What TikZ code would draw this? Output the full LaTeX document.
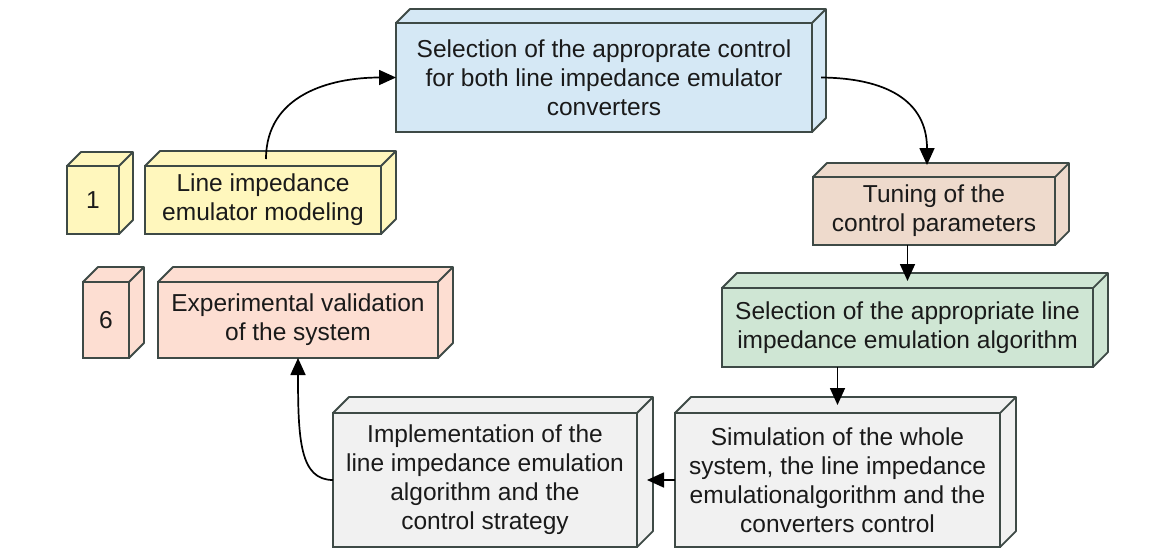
\documentclass[tikz,border=0pt]{standalone}
\usepackage{fontspec}
\setmainfont{Liberation Sans}
\usetikzlibrary{arrows.meta,calc}

\definecolor{edge}{HTML}{3E4A46}
\definecolor{fyellow}{HTML}{FFF7BD}
\definecolor{fblue}{HTML}{D5E8F5}
\definecolor{ftan}{HTML}{EEDACC}
\definecolor{fgreen}{HTML}{CFE6D4}
\definecolor{fpink}{HTML}{FDDED2}
\definecolor{fgray}{HTML}{F1F1F1}
\definecolor{txt}{HTML}{1A1A1A}

\tikzset{
  face/.style={draw=edge, line width=1.8pt, outer sep=0pt, inner sep=0pt,
    align=center, text=txt, anchor=north west,
    font=\fontsize{24.5}{29}\selectfont},
  flow/.style={draw=black, line width=1.7pt,
    -{Triangle[length=17pt,width=15pt]}},
}

% front face as a named node, top and right faces drawn behind it
% name, fill, x, y, width, height, depth, text
\newcommand\blockthreedi[8]{%
  \node[face, fill=#2, minimum width=#5, minimum height=#6] (#1) at (#3,#4) {#8};
  \filldraw[fill=#2, draw=edge, line width=1.8pt, line join=round]
    (#1.north west) -- ++(#7,-#7) -- ($(#1.north east)+(#7,-#7)$)
    -- ($(#1.south east)+(#7,-#7)$) -- (#1.south east) -- (#1.north east) -- cycle;
  \draw[edge, line width=1.8pt, line join=round]
    (#1.north east) -- ++(#7,-#7);
}

\begin{document}
\begin{tikzpicture}[x=1pt,y=-1pt]
\useasboundingbox (0,0) rectangle (1166,550);

\blockthreedi{one}{fyellow}{67}{166}{52pt}{68pt}{14}{1}
\blockthreedi{li}{fyellow}{145}{166}{236pt}{68pt}{15}{Line impedance\\emulator modeling}
\blockthreedi{sel}{fblue}{396}{23}{416pt}{109pt}{14}{Selection of the approprate control\\for both line impedance emulator\\converters}
\blockthreedi{tun}{ftan}{813}{177}{242pt}{68pt}{14}{Tuning of the\\control parameters}
\blockthreedi{alg}{fgreen}{722}{288}{371pt}{79pt}{15}{Selection of the appropriate line\\impedance emulation algorithm}
\blockthreedi{six}{fpink}{83}{282}{46pt}{76pt}{15}{6}
\blockthreedi{exp}{fpink}{158}{282}{280pt}{76pt}{15}{Experimental validation\\of the system}
\blockthreedi{imp}{fgray}{333}{413}{304pt}{134pt}{16}{Implementation of the\\line impedance emulation\\algorithm and the\\control strategy}
\blockthreedi{sim}{fgray}{675}{413}{325pt}{134pt}{16}{Simulation of the whole\\system, the line impedance\\emulationalgorithm and the\\converters control}

% connector end points lying on the top and side faces
\coordinate (liTop) at ($(li.north)+(3,-7)$);
\coordinate (selSide) at ($(sel.east)+(9,0)$);
\coordinate (tunTop) at ($(tun.north)+(-7,-12)$);
\coordinate (algTop) at ($(alg.north)+(0,-7)$);
\coordinate (simTop) at ($(sim.north)+(0,-8)$);
\coordinate (impSide) at ($(imp.east)+(10,0)$);

\draw[flow] (liTop) .. controls (266,95) and (330,77.5) .. (sel.west);
\draw[flow] (selSide) .. controls (885,78) and (927,100) .. (tunTop);
\draw[flow] (algTop |- tun.south) -- (algTop);
\draw[flow] (simTop |- alg.south) -- (simTop);
\draw[flow] (sim.west) -- (impSide);
\draw[flow] (imp.west) .. controls (300,480) and (298,440) .. (exp.south);
\end{tikzpicture}
\end{document}
